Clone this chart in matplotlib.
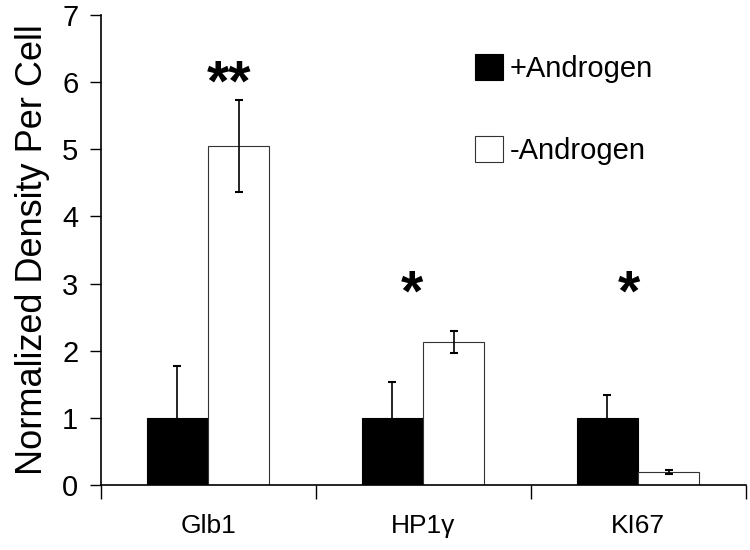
import numpy as np
import matplotlib.pyplot as plt

plt.rcParams['font.family'] = ['Liberation Sans', 'DejaVu Sans']

genes = ["Glb1", "HP1\u03b3", "KI67"]
plus_vals = [1.0, 1.0, 1.0]
plus_err = [0.78, 0.54, 0.34]
minus_vals = [5.05, 2.13, 0.20]
minus_err = [0.68, 0.17, 0.03]
stars = ["**", "*", "*"]
star_y = [5.95, 2.82, 2.82]
star_dx = [0.1, -0.05, -0.04]

x = np.arange(len(genes))
w = 0.285

fig = plt.figure(figsize=(7.5, 5.5), dpi=100)
ax = fig.add_axes([0.134, 0.118, 0.86, 0.855])

ax.bar(x - w / 2, plus_vals, w, color="black", edgecolor="black", linewidth=0.8,
       label="+Androgen")
eb = ax.errorbar(x - w / 2, plus_vals, yerr=[np.zeros(3), plus_err], fmt="none",
                 ecolor="black", elinewidth=1.2, capsize=3, capthick=1.5)
eb[1][0].set_visible(False)  # no lower cap on the filled bars
ax.bar(x + w / 2, minus_vals, w, color="white", edgecolor="#333333", linewidth=0.8,
       label="-Androgen")
ax.errorbar(x + w / 2, minus_vals, yerr=minus_err, fmt="none",
            ecolor="black", elinewidth=1.2, capsize=3, capthick=1.5)

for i, s in enumerate(stars):
    ax.text(x[i] + star_dx[i], star_y[i], s, ha="center", va="center",
            fontsize=41, fontweight="bold")

ax.set_xlim(-0.5, 2.5)
ax.set_ylim(0, 7)
ax.set_yticks(range(8))
ax.set_xticks([-0.5, 0.5, 1.5, 2.5])
ax.set_xticklabels([])
ax.set_xticks(x, minor=True)
ax.set_xticklabels(genes, minor=True)
ax.tick_params(axis="x", which="minor", length=0, labelsize=19, pad=21)
ax.tick_params(axis="x", which="major", length=10, width=1)
ax.tick_params(axis="y", length=8, width=1, labelsize=21, pad=8)
ax.set_ylabel("Normalized Density Per Cell", fontsize=26, labelpad=9)
for s in ["top", "right"]:
    ax.spines[s].set_visible(False)
for s in ["left", "bottom"]:
    ax.spines[s].set_linewidth(1.2)

ax.legend(loc="upper left", bbox_to_anchor=(0.54, 0.972), frameon=False,
          fontsize=21, labelspacing=1.8, handlelength=0.95, handleheight=1.0,
          handletextpad=0.25)

fig.savefig("out.png", dpi=100)
